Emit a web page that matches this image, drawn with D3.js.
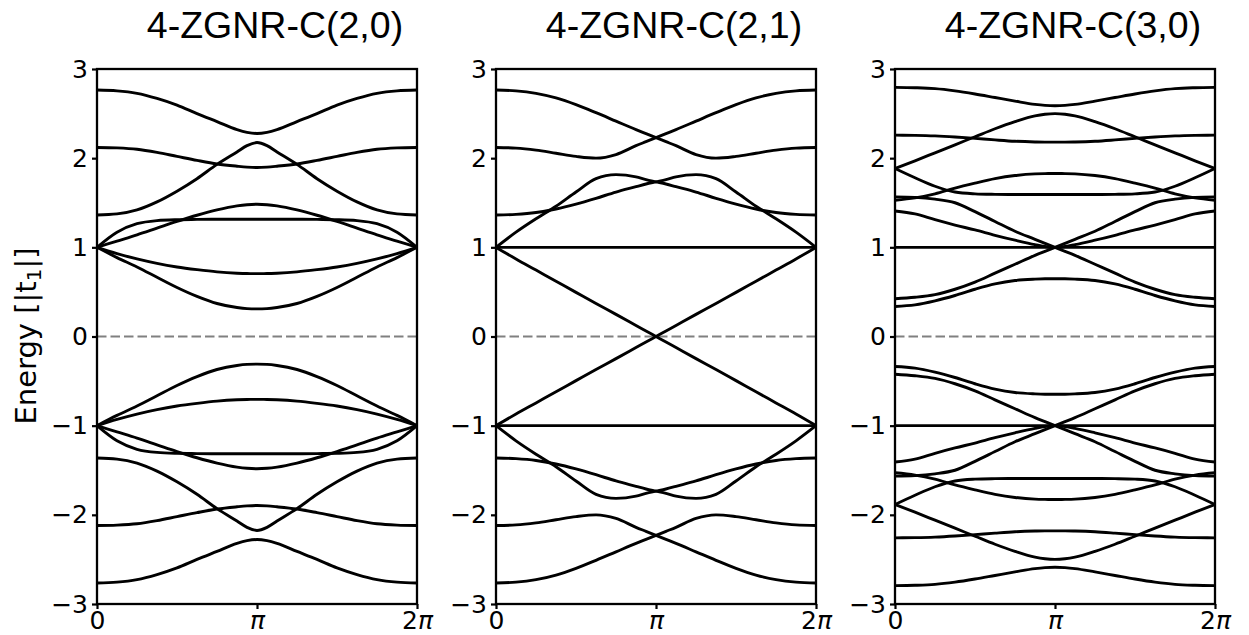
<!DOCTYPE html>
<html><head><meta charset="utf-8">
<script src="https://cdn.jsdelivr.net/npm/d3@7"></script>
<style>body{margin:0;background:#fff}</style>
</head><body>
<svg id="c" width="1249" height="635"></svg>
<script>
// k positions in units of pi
const kGrid = [0, 0.125, 0.25, 0.375, 0.5, 0.625, 0.75, 0.875, 0.9375, 1, 1.0625, 1.125, 1.25, 1.375, 1.5, 1.625, 1.75, 1.875, 2];

const titles = ["4-ZGNR-C(2,0)", "4-ZGNR-C(2,1)", "4-ZGNR-C(3,0)"];
const yTicks = [-3, -2, -1, 0, 1, 2, 3];
const xTickValues = [0, 1, 2];
const xTickLabels = ["0", "\u03c0", "2\u03c0"];
const yLabel = "Energy [|t", yLabelSub = "1", yLabelEnd = "|]";

// Panel 1: 4-ZGNR-C(2,0)
const bandsC20 = [
  [2.764, 2.755, 2.727, 2.67, 2.595, 2.50, 2.41, 2.32, 2.29, 2.277, 2.29, 2.32, 2.41, 2.50, 2.595, 2.67, 2.727, 2.755, 2.764],
  [2.12, 2.115, 2.10, 2.065, 2.02, 1.975, 1.935, 1.91, 1.90, 1.895, 1.90, 1.91, 1.935, 1.975, 2.02, 2.065, 2.10, 2.115, 2.12],
  [1.363, 1.375, 1.42, 1.51, 1.63, 1.77, 1.93, 2.07, 2.14, 2.175, 2.14, 2.07, 1.93, 1.77, 1.63, 1.51, 1.42, 1.375, 1.363],
  [1.0, 1.07, 1.14, 1.215, 1.29, 1.36, 1.42, 1.465, 1.478, 1.483, 1.478, 1.465, 1.42, 1.36, 1.29, 1.215, 1.14, 1.07, 1.0],
  [1.0, 1.17, 1.265, 1.30, 1.31, 1.313, 1.315, 1.315, 1.315, 1.315, 1.315, 1.315, 1.315, 1.313, 1.31, 1.30, 1.265, 1.17, 1.0],
  [1.0, 0.93, 0.87, 0.82, 0.78, 0.75, 0.725, 0.71, 0.706, 0.705, 0.706, 0.71, 0.725, 0.75, 0.78, 0.82, 0.87, 0.93, 1.0],
  [1.0, 0.885, 0.78, 0.665, 0.55, 0.45, 0.37, 0.325, 0.313, 0.31, 0.313, 0.325, 0.37, 0.45, 0.55, 0.665, 0.78, 0.885, 1.0],
  [-1.0, -0.885, -0.78, -0.665, -0.55, -0.45, -0.37, -0.325, -0.313, -0.31, -0.313, -0.325, -0.37, -0.45, -0.55, -0.665, -0.78, -0.885, -1.0],
  [-1.0, -0.93, -0.87, -0.82, -0.78, -0.75, -0.725, -0.71, -0.706, -0.705, -0.706, -0.71, -0.725, -0.75, -0.78, -0.82, -0.87, -0.93, -1.0],
  [-1.0, -1.17, -1.265, -1.30, -1.31, -1.313, -1.315, -1.315, -1.315, -1.315, -1.315, -1.315, -1.315, -1.313, -1.31, -1.30, -1.265, -1.17, -1.0],
  [-1.0, -1.07, -1.14, -1.215, -1.29, -1.36, -1.42, -1.465, -1.478, -1.483, -1.478, -1.465, -1.42, -1.36, -1.29, -1.215, -1.14, -1.07, -1.0],
  [-1.363, -1.375, -1.42, -1.51, -1.63, -1.77, -1.93, -2.07, -2.14, -2.175, -2.14, -2.07, -1.93, -1.77, -1.63, -1.51, -1.42, -1.375, -1.363],
  [-2.12, -2.115, -2.10, -2.065, -2.02, -1.975, -1.935, -1.91, -1.90, -1.895, -1.90, -1.91, -1.935, -1.975, -2.02, -2.065, -2.10, -2.115, -2.12],
  [-2.764, -2.755, -2.727, -2.67, -2.595, -2.50, -2.41, -2.32, -2.29, -2.277, -2.29, -2.32, -2.41, -2.50, -2.595, -2.67, -2.727, -2.755, -2.764]
];

// Panel 2: 4-ZGNR-C(2,1)
const bandsC21 = [
  [2.764, 2.755, 2.727, 2.675, 2.60, 2.51, 2.415, 2.32, 2.275, 2.23, 2.185, 2.14, 2.04, 2.0, 2.02, 2.055, 2.09, 2.113, 2.12],
  [2.12, 2.113, 2.09, 2.055, 2.02, 2.0, 2.04, 2.14, 2.185, 2.23, 2.275, 2.32, 2.415, 2.51, 2.60, 2.675, 2.727, 2.755, 2.764],
  [1.363, 1.37, 1.39, 1.43, 1.485, 1.55, 1.62, 1.68, 1.71, 1.735, 1.76, 1.79, 1.815, 1.77, 1.62, 1.46, 1.32, 1.17, 1.0],
  [1.0, 1.17, 1.32, 1.46, 1.62, 1.77, 1.815, 1.79, 1.76, 1.735, 1.71, 1.68, 1.62, 1.55, 1.485, 1.43, 1.39, 1.37, 1.363],
  [1, 1, 1, 1, 1, 1, 1, 1, 1, 1, 1, 1, 1, 1, 1, 1, 1, 1, 1],
  [1.0, 0.87, 0.745, 0.62, 0.495, 0.37, 0.248, 0.124, 0.062, 0.0, -0.062, -0.124, -0.248, -0.37, -0.495, -0.62, -0.745, -0.87, -1.0],
  [-1.0, -0.87, -0.745, -0.62, -0.495, -0.37, -0.248, -0.124, -0.062, 0.0, 0.062, 0.124, 0.248, 0.37, 0.495, 0.62, 0.745, 0.87, 1.0],
  [-1, -1, -1, -1, -1, -1, -1, -1, -1, -1, -1, -1, -1, -1, -1, -1, -1, -1, -1],
  [-1.0, -1.17, -1.32, -1.46, -1.62, -1.77, -1.815, -1.79, -1.76, -1.735, -1.71, -1.68, -1.62, -1.55, -1.485, -1.43, -1.39, -1.37, -1.363],
  [-1.363, -1.37, -1.39, -1.43, -1.485, -1.55, -1.62, -1.68, -1.71, -1.735, -1.76, -1.79, -1.815, -1.77, -1.62, -1.46, -1.32, -1.17, -1.0],
  [-2.12, -2.113, -2.09, -2.055, -2.02, -2.0, -2.04, -2.14, -2.185, -2.23, -2.275, -2.32, -2.415, -2.51, -2.60, -2.675, -2.727, -2.755, -2.764],
  [-2.764, -2.755, -2.727, -2.675, -2.60, -2.51, -2.415, -2.32, -2.275, -2.23, -2.185, -2.14, -2.04, -2.0, -2.02, -2.055, -2.09, -2.113, -2.12]
];

// Panel 3: 4-ZGNR-C(3,0)
const bandsC30 = [
  [2.794, 2.79, 2.78, 2.755, 2.72, 2.68, 2.64, 2.603, 2.592, 2.588, 2.592, 2.603, 2.64, 2.68, 2.72, 2.755, 2.78, 2.79, 2.794],
  [1.884, 1.97, 2.06, 2.15, 2.24, 2.33, 2.41, 2.475, 2.493, 2.50, 2.493, 2.475, 2.41, 2.33, 2.24, 2.15, 2.06, 1.97, 1.884],
  [2.258, 2.256, 2.25, 2.238, 2.222, 2.205, 2.19, 2.182, 2.18, 2.18, 2.18, 2.182, 2.19, 2.205, 2.222, 2.238, 2.25, 2.256, 2.258],
  [1.884, 1.78, 1.685, 1.62, 1.60, 1.594, 1.592, 1.592, 1.592, 1.592, 1.592, 1.592, 1.592, 1.594, 1.60, 1.62, 1.685, 1.78, 1.884],
  [1.528, 1.554, 1.60, 1.665, 1.72, 1.77, 1.805, 1.824, 1.827, 1.828, 1.827, 1.824, 1.805, 1.77, 1.72, 1.665, 1.60, 1.554, 1.528],
  [1.566, 1.56, 1.54, 1.50, 1.40, 1.29, 1.18, 1.09, 1.045, 1.0, 0.955, 0.91, 0.81, 0.71, 0.61, 0.53, 0.47, 0.44, 0.423],
  [0.423, 0.44, 0.47, 0.53, 0.61, 0.71, 0.81, 0.91, 0.955, 1.0, 1.045, 1.09, 1.18, 1.29, 1.40, 1.50, 1.54, 1.56, 1.566],
  [1.408, 1.375, 1.31, 1.25, 1.195, 1.135, 1.08, 1.03, 1.01, 1.0, 1.01, 1.03, 1.08, 1.135, 1.195, 1.25, 1.31, 1.375, 1.408],
  [1, 1, 1, 1, 1, 1, 1, 1, 1, 1, 1, 1, 1, 1, 1, 1, 1, 1, 1],
  [0.337, 0.355, 0.40, 0.46, 0.53, 0.59, 0.628, 0.643, 0.647, 0.648, 0.647, 0.643, 0.628, 0.59, 0.53, 0.46, 0.40, 0.355, 0.337],
  [-0.337, -0.355, -0.40, -0.46, -0.53, -0.59, -0.628, -0.643, -0.647, -0.648, -0.647, -0.643, -0.628, -0.59, -0.53, -0.46, -0.40, -0.355, -0.337],
  [-1, -1, -1, -1, -1, -1, -1, -1, -1, -1, -1, -1, -1, -1, -1, -1, -1, -1, -1],
  [-1.408, -1.375, -1.31, -1.25, -1.195, -1.135, -1.08, -1.03, -1.01, -1.0, -1.01, -1.03, -1.08, -1.135, -1.195, -1.25, -1.31, -1.375, -1.408],
  [-0.423, -0.44, -0.47, -0.53, -0.61, -0.71, -0.81, -0.91, -0.955, -1.0, -1.045, -1.09, -1.18, -1.29, -1.40, -1.50, -1.54, -1.56, -1.566],
  [-1.566, -1.56, -1.54, -1.50, -1.40, -1.29, -1.18, -1.09, -1.045, -1.0, -0.955, -0.91, -0.81, -0.71, -0.61, -0.53, -0.47, -0.44, -0.423],
  [-1.528, -1.554, -1.60, -1.665, -1.72, -1.77, -1.805, -1.824, -1.827, -1.828, -1.827, -1.824, -1.805, -1.77, -1.72, -1.665, -1.60, -1.554, -1.528],
  [-1.884, -1.78, -1.685, -1.62, -1.60, -1.594, -1.592, -1.592, -1.592, -1.592, -1.592, -1.592, -1.592, -1.594, -1.60, -1.62, -1.685, -1.78, -1.884],
  [-2.258, -2.256, -2.25, -2.238, -2.222, -2.205, -2.19, -2.182, -2.18, -2.18, -2.18, -2.182, -2.19, -2.205, -2.222, -2.238, -2.25, -2.256, -2.258],
  [-1.884, -1.97, -2.06, -2.15, -2.24, -2.33, -2.41, -2.475, -2.493, -2.50, -2.493, -2.475, -2.41, -2.33, -2.24, -2.15, -2.06, -1.97, -1.884],
  [-2.794, -2.79, -2.78, -2.755, -2.72, -2.68, -2.64, -2.603, -2.592, -2.588, -2.592, -2.603, -2.64, -2.68, -2.72, -2.755, -2.78, -2.79, -2.794]
];

const panelBands = [bandsC20, bandsC21, bandsC30];

// ---- layout ----
const svg = d3.select("#c");
const panelLeft = [97, 496, 895];
const panelW = 320;
const yScale = d3.scaleLinear().domain([-3, 3]).range([604, 69]);
const tickFont = "'DejaVu Sans', sans-serif";

panelBands.forEach((bands, i) => {
  const x = d3.scaleLinear().domain([0, 2]).range([panelLeft[i], panelLeft[i] + panelW]);
  const g = svg.append("g");

  // zero reference line
  g.append("line")
    .attr("x1", x(0)).attr("x2", x(2))
    .attr("y1", yScale(0)).attr("y2", yScale(0))
    .attr("stroke", "#808080").attr("stroke-width", 1.8)
    .attr("stroke-dasharray", "9.5,4");

  const line = d3.line()
    .x((d, j) => x(kGrid[j]))
    .y(d => yScale(d))
    .curve(d3.curveMonotoneX);

  g.append("g").selectAll("path").data(bands).join("path")
    .attr("d", line)
    .attr("fill", "none").attr("stroke", "#000")
    .attr("stroke-width", 2.9)
    .attr("stroke-linejoin", "round");

  // y axis
  const ya = g.append("g").attr("transform", `translate(${x(0)},0)`)
    .call(d3.axisLeft(yScale).tickValues(yTicks)
      .tickFormat(d => d < 0 ? "\u2212" + Math.abs(d) : String(d))
      .tickSize(5).tickPadding(4));
  ya.select(".domain").remove();
  ya.selectAll(".tick line").attr("stroke", "#000").attr("stroke-width", 2.2);
  ya.selectAll(".tick text").attr("font-family", tickFont).attr("font-size", 25).attr("fill", "#000");

  // x axis
  const xa = g.append("g").attr("transform", `translate(0,${yScale(-3)})`)
    .call(d3.axisBottom(x).tickValues(xTickValues).tickFormat("").tickSize(5).tickPadding(2));
  xa.select(".domain").remove();
  xa.selectAll(".tick line").attr("stroke", "#000").attr("stroke-width", 2.2);
  xa.selectAll(".tick text").each(function(d, j) {
    const t = d3.select(this).attr("font-family", tickFont).attr("font-size", 25).attr("fill", "#000");
    const lab = xTickLabels[j];
    if (lab.indexOf("\u03c0") >= 0) {
      const pre = lab.replace("\u03c0", "");
      if (pre) t.append("tspan").text(pre);
      t.append("tspan").attr("font-style", "italic").text("\u03c0");
    } else {
      t.text(lab);
    }
  });

  // spines
  g.append("rect")
    .attr("x", x(0)).attr("y", yScale(3))
    .attr("width", x(2) - x(0)).attr("height", yScale(-3) - yScale(3))
    .attr("fill", "none").attr("stroke", "#000").attr("stroke-width", 2.3);

  // title
  g.append("text")
    .attr("x", (x(0) + x(2)) / 2 + 18).attr("y", 38)
    .attr("text-anchor", "middle")
    .attr("font-family", "'Liberation Sans', Arial, sans-serif")
    .attr("font-size", 37.5).attr("fill", "#000")
    .text(titles[i]);
});

// y label
const yl = svg.append("text")
  .attr("transform", "translate(36,336) rotate(-90)")
  .attr("text-anchor", "middle")
  .attr("font-family", tickFont).attr("font-size", 29).attr("fill", "#000");
yl.append("tspan").text(yLabel);
yl.append("tspan").attr("font-size", 20).attr("dy", 5).text(yLabelSub);
yl.append("tspan").attr("dy", -5).text(yLabelEnd);
</script>
</body></html>
